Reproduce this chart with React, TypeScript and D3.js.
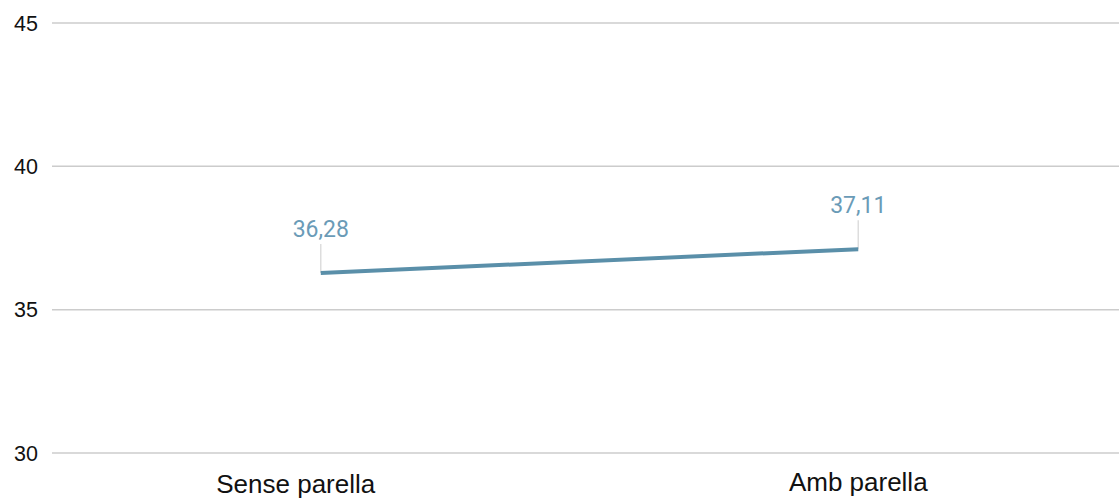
import React from "react";
import * as d3 from "d3";

const categories: string[] = ["Sense parella", "Amb parella"];
const values: number[] = [36.28, 37.11];
const valueLabels: string[] = ["36,28", "37,11"];
const yTicks: number[] = [30, 35, 40, 45];

const WIDTH = 1119;
const HEIGHT = 504;
const LINE_COLOR = "#5a8fa9";
const LABEL_COLOR = "#6a9bb7";
const GRID_COLOR = "#cccccc";

export default function App() {
  const x = d3.scaleBand<string>().domain(categories).range([52, 1127]).padding(0);
  const y = d3.scaleLinear().domain([30, 45]).range([453, 23]);
  const cx = (c: string) => (x(c) as number) + x.bandwidth() / 2;

  const line = d3
    .line<number>()
    .x((_, i) => cx(categories[i]))
    .y((d) => y(d));

  // category labels sit slightly differently per column
  const catDx = [-25, 0];
  const catY = [493, 491];

  return (
    <svg
      width={WIDTH}
      height={HEIGHT}
      style={{ position: "absolute", left: 0, top: 0, background: "#fff" }}
    >
      {yTicks.map((t) => (
        <g key={t}>
          <line x1={52} x2={WIDTH} y1={y(t)} y2={y(t)} stroke={GRID_COLOR} strokeWidth={1.5} />
          <text
            x={38}
            y={y(t)}
            dy="0.36em"
            textAnchor="end"
            fontFamily="Liberation Sans, Arial, sans-serif"
            fontSize={21.5}
            fill="#111"
          >
            {t}
          </text>
        </g>
      ))}

      {values.map((v, i) => (
        <line
          key={"lead" + i}
          x1={cx(categories[i])}
          x2={cx(categories[i])}
          y1={y(v) - 29}
          y2={y(v)}
          stroke="#dddddd"
          strokeWidth={1.5}
        />
      ))}

      <path d={line(values) || ""} fill="none" stroke={LINE_COLOR} strokeWidth={4} />

      {values.map((v, i) => (
        <text
          key={"val" + i}
          x={cx(categories[i])}
          y={y(v) - 36}
          textAnchor="middle"
          fontFamily="Roboto, sans-serif"
          fontSize={23}
          fill={LABEL_COLOR}
        >
          {valueLabels[i]}
        </text>
      ))}

      {categories.map((c, i) => (
        <text
          key={c}
          x={cx(c) + catDx[i]}
          y={catY[i]}
          textAnchor="middle"
          fontFamily="Liberation Sans, Arial, sans-serif"
          fontSize={26}
          fill="#111"
        >
          {c}
        </text>
      ))}
    </svg>
  );
}
